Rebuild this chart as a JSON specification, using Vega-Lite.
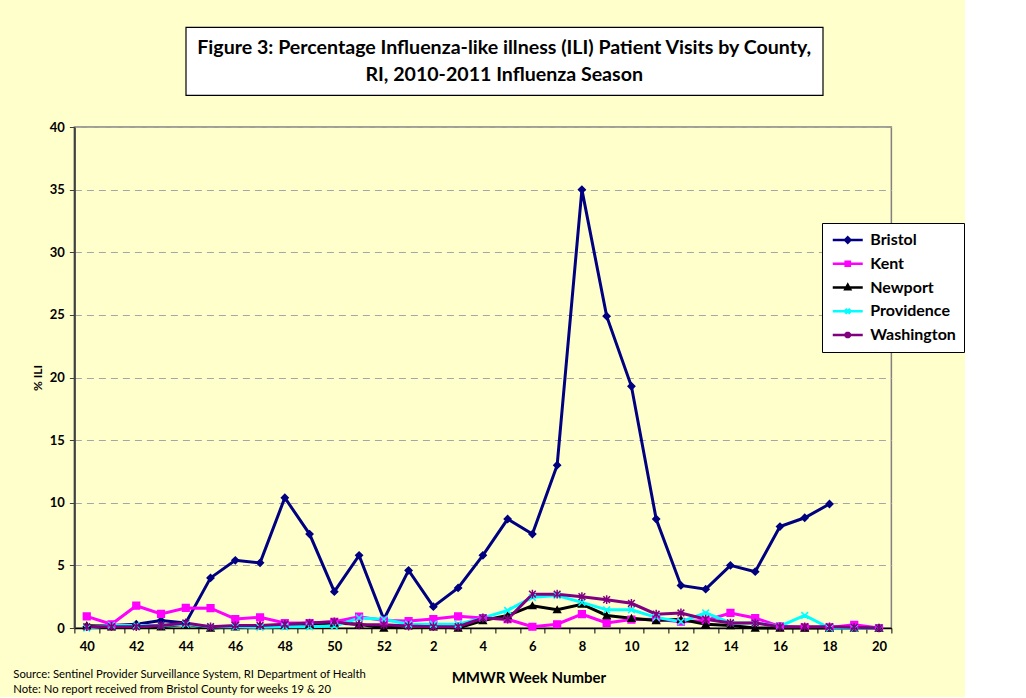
{
  "$schema": "https://vega.github.io/schema/vega-lite/v6.json",
  "background": "#FFFFCC",
  "padding": {"left": 12, "top": 26, "right": 0, "bottom": 0},
  "config": {"font": "Lato", "view": {"stroke": "#808080", "strokeWidth": 1.5}},
  "spacing": 24,
  "center": true,
  "vconcat": [
    {
      "spacing": 0,
      "hconcat": [
        {
          "width": 40,
          "height": 68,
          "view": {"fill": "transparent", "stroke": "transparent"},
          "data": {"values": [{"k": 1}]},
          "mark": {"type": "text", "text": ""},
          "encoding": {}
        },
        {
          "width": 637,
          "height": 68,
          "view": {"fill": "white", "stroke": "black", "strokeWidth": 1.2},
          "data": {"values": [{"k": 1}]},
          "mark": {"type": "text", "text": ["Figure 3: Percentage Influenza-like illness (ILI) Patient Visits by County,", "RI, 2010-2011 Influenza Season"], "font": "Lato", "fontSize": 19.6, "fontWeight": "bold", "lineHeight": 27, "baseline": "middle", "align": "center", "dy": -13.5, "color": "black"},
          "encoding": {}
        }
      ]
    },
    {
      "width": 817,
      "height": 501,
      "title": {"text": "Source: Sentinel Provider Surveillance System, RI Department of Health", "subtitle": "Note: No report received from Bristol County for weeks 19 & 20", "orient": "bottom", "anchor": "start", "frame": "bounds", "font": "Lato", "fontSize": 11.3, "fontWeight": "normal", "color": "black", "subtitleFont": "Lato", "subtitleFontSize": 11.3, "subtitleColor": "black", "subtitlePadding": 4, "offset": -16, "dx": -18},
      "data": {"values": [
        {"county":"Bristol","week":"40","ili":0.1},{"county":"Bristol","week":"41","ili":0.2},{"county":"Bristol","week":"42","ili":0.3},{"county":"Bristol","week":"43","ili":0.6},{"county":"Bristol","week":"44","ili":0.4},{"county":"Bristol","week":"45","ili":4.0},{"county":"Bristol","week":"46","ili":5.4},{"county":"Bristol","week":"47","ili":5.2},{"county":"Bristol","week":"48","ili":10.4},{"county":"Bristol","week":"49","ili":7.5},{"county":"Bristol","week":"50","ili":2.9},{"county":"Bristol","week":"51","ili":5.8},{"county":"Bristol","week":"52","ili":0.7},{"county":"Bristol","week":"1","ili":4.6},{"county":"Bristol","week":"2","ili":1.7},{"county":"Bristol","week":"3","ili":3.2},{"county":"Bristol","week":"4","ili":5.8},{"county":"Bristol","week":"5","ili":8.7},{"county":"Bristol","week":"6","ili":7.5},{"county":"Bristol","week":"7","ili":13.0},{"county":"Bristol","week":"8","ili":35.0},{"county":"Bristol","week":"9","ili":24.9},{"county":"Bristol","week":"10","ili":19.3},{"county":"Bristol","week":"11","ili":8.7},{"county":"Bristol","week":"12","ili":3.4},{"county":"Bristol","week":"13","ili":3.1},{"county":"Bristol","week":"14","ili":5.0},{"county":"Bristol","week":"15","ili":4.5},{"county":"Bristol","week":"16","ili":8.1},{"county":"Bristol","week":"17","ili":8.8},{"county":"Bristol","week":"18","ili":9.9},{"county":"Bristol","week":"19","ili":null},{"county":"Bristol","week":"20","ili":null},
        {"county":"Kent","week":"40","ili":0.93},{"county":"Kent","week":"41","ili":0.3},{"county":"Kent","week":"42","ili":1.78},{"county":"Kent","week":"43","ili":1.12},{"county":"Kent","week":"44","ili":1.6},{"county":"Kent","week":"45","ili":1.58},{"county":"Kent","week":"46","ili":0.72},{"county":"Kent","week":"47","ili":0.85},{"county":"Kent","week":"48","ili":0.4},{"county":"Kent","week":"49","ili":0.4},{"county":"Kent","week":"50","ili":0.5},{"county":"Kent","week":"51","ili":0.9},{"county":"Kent","week":"52","ili":0.6},{"county":"Kent","week":"1","ili":0.55},{"county":"Kent","week":"2","ili":0.72},{"county":"Kent","week":"3","ili":0.93},{"county":"Kent","week":"4","ili":0.8},{"county":"Kent","week":"5","ili":0.7},{"county":"Kent","week":"6","ili":0.1},{"county":"Kent","week":"7","ili":0.3},{"county":"Kent","week":"8","ili":1.1},{"county":"Kent","week":"9","ili":0.4},{"county":"Kent","week":"10","ili":0.67},{"county":"Kent","week":"11","ili":0.7},{"county":"Kent","week":"12","ili":0.5},{"county":"Kent","week":"13","ili":0.6},{"county":"Kent","week":"14","ili":1.2},{"county":"Kent","week":"15","ili":0.8},{"county":"Kent","week":"16","ili":0.13},{"county":"Kent","week":"17","ili":0.05},{"county":"Kent","week":"18","ili":0.05},{"county":"Kent","week":"19","ili":0.25},{"county":"Kent","week":"20","ili":0.0},
        {"county":"Newport","week":"40","ili":0.2},{"county":"Newport","week":"41","ili":0.1},{"county":"Newport","week":"42","ili":0.2},{"county":"Newport","week":"43","ili":0.1},{"county":"Newport","week":"44","ili":0.3},{"county":"Newport","week":"45","ili":0.0},{"county":"Newport","week":"46","ili":0.1},{"county":"Newport","week":"47","ili":0.2},{"county":"Newport","week":"48","ili":0.2},{"county":"Newport","week":"49","ili":0.3},{"county":"Newport","week":"50","ili":0.4},{"county":"Newport","week":"51","ili":0.3},{"county":"Newport","week":"52","ili":0.0},{"county":"Newport","week":"1","ili":0.2},{"county":"Newport","week":"2","ili":0.1},{"county":"Newport","week":"3","ili":0.0},{"county":"Newport","week":"4","ili":0.6},{"county":"Newport","week":"5","ili":1.0},{"county":"Newport","week":"6","ili":1.78},{"county":"Newport","week":"7","ili":1.46},{"county":"Newport","week":"8","ili":1.9},{"county":"Newport","week":"9","ili":1.0},{"county":"Newport","week":"10","ili":0.78},{"county":"Newport","week":"11","ili":0.6},{"county":"Newport","week":"12","ili":0.7},{"county":"Newport","week":"13","ili":0.3},{"county":"Newport","week":"14","ili":0.2},{"county":"Newport","week":"15","ili":0.0},{"county":"Newport","week":"16","ili":0.0},{"county":"Newport","week":"17","ili":0.0},{"county":"Newport","week":"18","ili":0.0},{"county":"Newport","week":"19","ili":0.0},{"county":"Newport","week":"20","ili":0.0},
        {"county":"Providence","week":"40","ili":0.0},{"county":"Providence","week":"41","ili":0.2},{"county":"Providence","week":"42","ili":0.2},{"county":"Providence","week":"43","ili":0.2},{"county":"Providence","week":"44","ili":0.3},{"county":"Providence","week":"45","ili":0.1},{"county":"Providence","week":"46","ili":0.1},{"county":"Providence","week":"47","ili":0.05},{"county":"Providence","week":"48","ili":0.1},{"county":"Providence","week":"49","ili":0.1},{"county":"Providence","week":"50","ili":0.15},{"county":"Providence","week":"51","ili":0.8},{"county":"Providence","week":"52","ili":0.7},{"county":"Providence","week":"1","ili":0.3},{"county":"Providence","week":"2","ili":0.3},{"county":"Providence","week":"3","ili":0.3},{"county":"Providence","week":"4","ili":0.8},{"county":"Providence","week":"5","ili":1.4},{"county":"Providence","week":"6","ili":2.45},{"county":"Providence","week":"7","ili":2.6},{"county":"Providence","week":"8","ili":2.05},{"county":"Providence","week":"9","ili":1.45},{"county":"Providence","week":"10","ili":1.45},{"county":"Providence","week":"11","ili":0.85},{"county":"Providence","week":"12","ili":0.5},{"county":"Providence","week":"13","ili":1.2},{"county":"Providence","week":"14","ili":0.4},{"county":"Providence","week":"15","ili":0.4},{"county":"Providence","week":"16","ili":0.15},{"county":"Providence","week":"17","ili":1.0},{"county":"Providence","week":"18","ili":0.0},{"county":"Providence","week":"19","ili":0.0},{"county":"Providence","week":"20","ili":0.0},
        {"county":"Washington","week":"40","ili":0.1},{"county":"Washington","week":"41","ili":0.1},{"county":"Washington","week":"42","ili":0.1},{"county":"Washington","week":"43","ili":0.2},{"county":"Washington","week":"44","ili":0.4},{"county":"Washington","week":"45","ili":0.1},{"county":"Washington","week":"46","ili":0.2},{"county":"Washington","week":"47","ili":0.2},{"county":"Washington","week":"48","ili":0.3},{"county":"Washington","week":"49","ili":0.4},{"county":"Washington","week":"50","ili":0.5},{"county":"Washington","week":"51","ili":0.25},{"county":"Washington","week":"52","ili":0.25},{"county":"Washington","week":"1","ili":0.15},{"county":"Washington","week":"2","ili":0.1},{"county":"Washington","week":"3","ili":0.1},{"county":"Washington","week":"4","ili":0.8},{"county":"Washington","week":"5","ili":0.7},{"county":"Washington","week":"6","ili":2.7},{"county":"Washington","week":"7","ili":2.7},{"county":"Washington","week":"8","ili":2.5},{"county":"Washington","week":"9","ili":2.26},{"county":"Washington","week":"10","ili":1.97},{"county":"Washington","week":"11","ili":1.1},{"county":"Washington","week":"12","ili":1.2},{"county":"Washington","week":"13","ili":0.7},{"county":"Washington","week":"14","ili":0.4},{"county":"Washington","week":"15","ili":0.4},{"county":"Washington","week":"16","ili":0.1},{"county":"Washington","week":"17","ili":0.1},{"county":"Washington","week":"18","ili":0.1},{"county":"Washington","week":"19","ili":0.05},{"county":"Washington","week":"20","ili":0.0}
      ]},
      "encoding": {
        "x": {"field": "week", "type": "ordinal",
          "sort": ["40","41","42","43","44","45","46","47","48","49","50","51","52","1","2","3","4","5","6","7","8","9","10","11","12","13","14","15","16","17","18","19","20"],
          "scale": {"type": "band", "paddingInner": 0, "paddingOuter": 0},
          "axis": {"title": "MMWR Week Number", "labelAngle": 0, "labelOverlap": false,
            "labelExpr": "toNumber(datum.value) % 2 == 0 ? datum.label : ''",
            "tickBand": "extent", "grid": false, "domainColor": "black", "domainWidth": 1.5, "tickColor": "black", "tickSize": 5,
            "labelFont": "Lato", "labelFontSize": 13, "labelFontWeight": "bold", "labelColor": "black", "labelPadding": 7,
            "titleFont": "Lato", "titleFontSize": 15, "titleFontWeight": "bold", "titleColor": "black", "titlePadding": 17, "titleX": 454}},
        "y": {"field": "ili", "type": "quantitative", "scale": {"domain": [0, 40], "nice": false},
          "axis": {"title": "% ILI", "values": [0,5,10,15,20,25,30,35,40], "grid": true, "gridDash": [7,5], "gridColor": "#A6A6A6", "gridWidth": 1,
            "domainColor": "#404040", "domainWidth": 2, "tickColor": "#404040", "tickSize": 5,
            "labelFont": "Lato", "labelFontSize": 13, "labelFontWeight": "bold", "labelColor": "black", "labelPadding": 5,
            "titleFont": "Lato", "titleFontSize": 12, "titleFontWeight": "bold", "titleColor": "black", "titlePadding": 5}}
      },
      "layer": [
        {
          "mark": {"type": "line", "strokeWidth": 3},
          "encoding": {
            "color": {"field": "county", "type": "nominal",
              "scale": {"domain": ["Bristol","Kent","Newport","Providence","Washington"], "range": ["#000080","#FF00FF","#000000","#00FFFF","#800080"]},
              "legend": {"title": null, "orient": "none", "legendX": 748, "legendY": 196, "fillColor": "white", "strokeColor": "black", "padding": 8,
                "symbolSize": 225, "symbolOffset": 8.75, "symbolStrokeWidth": 2.5, "labelFont": "Lato", "labelFontSize": 16, "labelFontWeight": "bold", "labelColor": "black", "rowPadding": 6.75, "labelOffset": 13.5,
                "encode": {"symbols": {"update": {
                  "strokeWidth": {"value": 2.5},
                  "fill": {"scale": "color", "field": "value"},
                  "stroke": {"scale": "color", "field": "value"},
                  "shape": {"signal": "datum.value == 'Bristol' ? 'M-2,0L2,0M0,-0.36L0.36,0L0,0.36L-0.36,0Z' : datum.value == 'Kent' ? 'M-2,0L2,0M-0.28,-0.28L0.28,-0.28L0.28,0.28L-0.28,0.28Z' : datum.value == 'Newport' ? 'M-2,0L2,0M0,-0.36L0.32,0.24L-0.32,0.24Z' : datum.value == 'Providence' ? 'M-2,0L2,0M-0.32,-0.32L0.32,0.32M-0.32,0.32L0.32,-0.32' : 'M-2,0L2,0M-0.32,-0.32L0.32,0.32M-0.32,0.32L0.32,-0.32M0,-0.42L0,0.42'"}
                }}}}}
          }
        },
        {
          "mark": {"type": "point", "filled": true, "size": 45, "strokeWidth": 1.5, "opacity": 1},
          "encoding": {
            "color": {"field": "county", "type": "nominal", "legend": null},
            "stroke": {"field": "county", "type": "nominal", "legend": null,
              "scale": {"domain": ["Bristol","Kent","Newport","Providence","Washington"], "range": ["#000080","#FF00FF","#000000","#00FFFF","#800080"]}},
            "shape": {"field": "county", "type": "nominal", "legend": null,
              "scale": {"domain": ["Washington","Providence","Newport","Kent","Bristol"], "range": ["M-1,-1L1,1M-1,1L1,-1M0,-1.3L0,1.3","M-1,-1L1,1M-1,1L1,-1","triangle-up","square","diamond"]}}
          }
        }
      ]
    }
  ]
}
